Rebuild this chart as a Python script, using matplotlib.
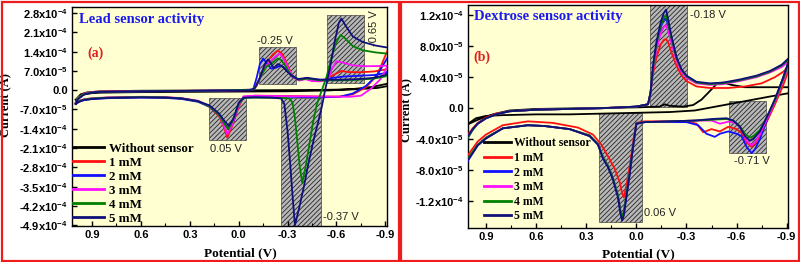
import numpy as np
import matplotlib
matplotlib.use('Agg')
import matplotlib.pyplot as plt
from matplotlib.patches import Rectangle
from matplotlib.ticker import FuncFormatter, MultipleLocator

plt.rcParams['font.family'] = ['Liberation Sans', 'DejaVu Sans']
plt.rcParams['font.weight'] = 'bold'
plt.rcParams['mathtext.fontset'] = 'custom'
plt.rcParams['mathtext.rm'] = 'Liberation Sans:bold'
plt.rcParams['mathtext.it'] = 'Liberation Sans:bold:italic'
plt.rcParams['mathtext.bf'] = 'Liberation Sans:bold'
plt.rcParams['hatch.linewidth'] = 0.6

# ---------------- DATA ----------------
# (potential in V, current in 1e-4 A)
series_labels = ["Without sensor", "1 mM", "2 mM", "3 mM", "4 mM", "5 mM"]
series_colors = ["#000000", "#ff1010", "#1010ff", "#ff10ff", "#008000", "#10107a"]

# panel (a): lead
lead_none = [(1.0, -0.35), (0.97, -0.2), (0.93, -0.12), (0.85, -0.09), (0.6, -0.07), (0.3, -0.06),
             (0.0, -0.05), (-0.3, -0.04), (-0.55, -0.01), (-0.7, 0.04), (-0.82, 0.12), (-0.9, 0.22),
             (-0.96, 0.3), (-0.96, 0.2), (-0.85, 0.08), (-0.7, 0.03), (-0.5, 0.01), (-0.2, 0.0),
             (0.2, -0.01), (0.6, -0.02), (0.85, -0.04), (0.93, -0.08), (0.97, -0.15), (1.0, -0.35)]
lead_1mM = [(1.0, -0.48), (0.98, -0.4), (0.95, -0.34), (0.9, -0.3), (0.8, -0.27), (0.6, -0.25),
            (0.45, -0.26), (0.35, -0.3), (0.25, -0.4), (0.18, -0.6), (0.12, -0.95), (0.09, -1.35),
            (0.07, -1.72), (0.04, -1.3), (0.0, -0.6), (-0.03, -0.25), (-0.1, -0.2), (-0.3, -0.21),
            (-0.5, -0.23), (-0.62, -0.23), (-0.7, -0.15), (-0.78, 0.1), (-0.85, 0.55), (-0.91, 1.4),
            (-0.96, 2.0), (-0.96, 1.0), (-0.9, 0.75), (-0.83, 0.68), (-0.74, 0.65), (-0.67, 0.66),
            (-0.63, 0.7), (-0.58, 0.55), (-0.52, 0.35), (-0.46, 0.33), (-0.41, 0.42), (-0.37, 0.36),
            (-0.33, 0.5), (-0.3, 0.9), (-0.27, 1.3), (-0.24, 1.44), (-0.21, 1.3), (-0.17, 1.0),
            (-0.14, 0.6), (-0.11, 0.15), (-0.08, 0.0), (0.2, -0.02), (0.6, -0.03), (0.88, -0.06),
            (0.95, -0.13), (0.99, -0.3), (1.0, -0.48)]
lead_2mM = [(1.0, -0.5), (0.98, -0.42), (0.95, -0.36), (0.9, -0.32), (0.8, -0.29), (0.6, -0.27),
            (0.45, -0.28), (0.35, -0.32), (0.25, -0.42), (0.18, -0.6), (0.12, -0.9), (0.09, -1.2),
            (0.06, -1.42), (0.03, -1.1), (0.0, -0.5), (-0.03, -0.25), (-0.1, -0.22), (-0.3, -0.24),
            (-0.5, -0.26), (-0.62, -0.24), (-0.7, -0.12), (-0.78, 0.15), (-0.85, 0.55), (-0.91, 1.15),
            (-0.96, 1.6), (-0.96, 0.9), (-0.9, 0.62), (-0.83, 0.55), (-0.73, 0.52), (-0.65, 0.5),
            (-0.58, 0.45), (-0.52, 0.38), (-0.46, 0.38), (-0.42, 0.45), (-0.38, 0.38), (-0.33, 0.48),
            (-0.29, 0.75), (-0.26, 0.9), (-0.23, 0.82), (-0.2, 0.78), (-0.17, 1.0), (-0.15, 1.15),
            (-0.13, 0.95), (-0.11, 0.45), (-0.09, 0.05), (-0.06, 0.0), (0.2, -0.02), (0.6, -0.04),
            (0.88, -0.07), (0.95, -0.15), (0.99, -0.32), (1.0, -0.5)]
lead_3mM = [(1.0, -0.46), (0.98, -0.38), (0.95, -0.33), (0.9, -0.29), (0.8, -0.26), (0.6, -0.24),
            (0.45, -0.25), (0.35, -0.29), (0.25, -0.38), (0.18, -0.58), (0.12, -0.9), (0.09, -1.3),
            (0.07, -1.6), (0.04, -1.25), (0.0, -0.55), (-0.03, -0.22), (-0.1, -0.2), (-0.3, -0.22),
            (-0.5, -0.23), (-0.68, -0.24), (-0.75, -0.2), (-0.81, 0.05), (-0.87, 0.4), (-0.92, 0.95),
            (-0.96, 1.3), (-0.96, 0.92), (-0.88, 0.88), (-0.78, 0.87), (-0.7, 0.9), (-0.64, 1.0),
            (-0.6, 1.05), (-0.57, 0.75), (-0.55, 0.4), (-0.5, 0.32), (-0.45, 0.33), (-0.41, 0.4),
            (-0.37, 0.35), (-0.33, 0.5), (-0.3, 0.85), (-0.27, 1.2), (-0.25, 1.33), (-0.22, 1.2),
            (-0.18, 0.95), (-0.15, 0.7), (-0.12, 0.3), (-0.09, 0.02), (0.2, -0.02), (0.6, -0.04),
            (0.88, -0.06), (0.95, -0.13), (0.99, -0.3), (1.0, -0.46)]
lead_4mM = [(1.0, -0.47), (0.98, -0.4), (0.95, -0.34), (0.9, -0.3), (0.8, -0.27), (0.6, -0.25),
            (0.45, -0.26), (0.35, -0.3), (0.25, -0.4), (0.18, -0.58), (0.12, -0.9), (0.09, -1.2),
            (0.065, -1.42), (0.04, -1.15), (0.0, -0.5), (-0.03, -0.28), (-0.1, -0.27), (-0.25, -0.28),
            (-0.31, -0.3), (-0.33, -0.45), (-0.345, -1.0), (-0.36, -1.9), (-0.375, -2.8), (-0.39, -3.36),
            (-0.41, -2.8), (-0.43, -2.1), (-0.455, -1.2), (-0.48, -0.5), (-0.51, 0.0), (-0.54, 0.5),
            (-0.57, 1.2), (-0.6, 1.75), (-0.625, 2.0), (-0.65, 1.9), (-0.7, 1.6), (-0.76, 1.45),
            (-0.84, 1.37), (-0.91, 1.33), (-0.96, 1.3), (-0.96, 0.7), (-0.9, 0.5), (-0.83, 0.42),
            (-0.73, 0.38), (-0.62, 0.36), (-0.5, 0.36), (-0.42, 0.42), (-0.37, 0.38), (-0.32, 0.55),
            (-0.29, 0.85), (-0.26, 1.1), (-0.24, 1.15), (-0.21, 1.0), (-0.17, 0.85), (-0.14, 0.55),
            (-0.11, 0.2), (-0.09, 0.02), (0.2, -0.02), (0.6, -0.04), (0.88, -0.07), (0.95, -0.14),
            (0.99, -0.3), (1.0, -0.47)]
lead_5mM = [(1.0, -0.5), (0.98, -0.42), (0.95, -0.36), (0.9, -0.32), (0.8, -0.28), (0.6, -0.26),
            (0.45, -0.27), (0.35, -0.3), (0.25, -0.4), (0.18, -0.55), (0.12, -0.85), (0.09, -1.1),
            (0.06, -1.3), (0.03, -1.0), (0.0, -0.45), (-0.03, -0.27), (-0.1, -0.26), (-0.2, -0.27),
            (-0.26, -0.3), (-0.28, -0.5), (-0.29, -1.0), (-0.3, -1.5), (-0.315, -2.6), (-0.33, -3.8),
            (-0.345, -4.9), (-0.37, -4.3), (-0.4, -3.5), (-0.43, -2.6), (-0.46, -1.8), (-0.49, -1.1),
            (-0.51, -0.6), (-0.53, 0.0), (-0.56, 0.8), (-0.59, 1.8), (-0.615, 2.45), (-0.63, 2.6),
            (-0.655, 2.35), (-0.7, 1.95), (-0.76, 1.75), (-0.84, 1.62), (-0.91, 1.55), (-0.96, 1.52),
            (-0.96, 0.8), (-0.9, 0.55), (-0.83, 0.45), (-0.73, 0.4), (-0.62, 0.38), (-0.5, 0.38),
            (-0.42, 0.45), (-0.36, 0.4), (-0.31, 0.6), (-0.27, 0.85), (-0.24, 0.95), (-0.215, 0.8),
            (-0.195, 1.0), (-0.18, 1.12), (-0.16, 0.95), (-0.13, 0.45), (-0.1, 0.08), (-0.08, 0.0),
            (0.2, -0.02), (0.6, -0.04), (0.88, -0.07), (0.95, -0.16), (0.99, -0.35), (1.0, -0.5)]

# panel (b): dextrose
dex_none = [(1.02, -0.22), (1.0, -0.19), (0.96, -0.13), (0.9, -0.1), (0.8, -0.09), (0.6, -0.08),
            (0.4, -0.08), (0.2, -0.07), (0.0, -0.06), (-0.2, -0.05), (-0.35, -0.03), (-0.5, 0.03),
            (-0.65, 0.09), (-0.8, 0.15), (-0.93, 0.2), (-0.93, 0.27), (-0.8, 0.27), (-0.65, 0.27),
            (-0.57, 0.3), (-0.52, 0.33), (-0.48, 0.31), (-0.44, 0.22), (-0.39, 0.11), (-0.34, 0.04),
            (-0.28, 0.02), (-0.2, 0.03), (-0.17, 0.05), (-0.14, 0.02), (0.0, 0.01), (0.3, 0.0),
            (0.6, -0.01), (0.76, -0.03), (0.86, -0.08), (0.95, -0.15), (1.02, -0.22)]
dex_1mM = [(1.02, -0.38), (0.98, -0.26), (0.95, -0.19), (0.9, -0.12), (0.84, -0.07), (0.76, -0.04),
           (0.6, -0.02), (0.4, -0.01), (0.2, 0.0), (0.0, 0.02), (-0.07, 0.05), (-0.085, 0.2),
           (-0.1, 0.45), (-0.12, 0.65), (-0.145, 0.82), (-0.165, 0.88), (-0.178, 0.89), (-0.19, 0.85),
           (-0.21, 0.72), (-0.24, 0.55), (-0.27, 0.42), (-0.3, 0.35), (-0.36, 0.28), (-0.44, 0.26),
           (-0.55, 0.26), (-0.65, 0.28), (-0.75, 0.32), (-0.83, 0.4), (-0.88, 0.47), (-0.93, 0.58),
           (-0.93, 0.6), (-0.88, 0.3), (-0.83, 0.05), (-0.78, -0.18), (-0.74, -0.36), (-0.71, -0.46),
           (-0.69, -0.5), (-0.66, -0.44), (-0.63, -0.32), (-0.6, -0.27), (-0.55, -0.24), (-0.5, -0.3),
           (-0.45, -0.27), (-0.4, -0.31), (-0.36, -0.2), (-0.3, -0.17), (-0.2, -0.17), (-0.05, -0.17),
           (0.0, -0.19), (0.02, -0.45), (0.04, -0.75), (0.06, -1.0), (0.075, -1.15), (0.085, -1.1),
           (0.1, -0.95), (0.13, -0.78), (0.17, -0.62), (0.21, -0.47), (0.26, -0.34), (0.35, -0.25),
           (0.5, -0.19), (0.65, -0.17), (0.8, -0.22), (0.9, -0.34), (0.95, -0.43), (0.98, -0.52),
           (1.02, -0.64)]
dex_2mM = [(1.02, -0.42), (0.98, -0.28), (0.95, -0.2), (0.9, -0.13), (0.84, -0.08), (0.76, -0.04),
           (0.6, -0.02), (0.4, -0.01), (0.2, 0.0), (0.0, 0.02), (-0.07, 0.05), (-0.085, 0.2),
           (-0.1, 0.52), (-0.12, 0.8), (-0.145, 1.04), (-0.165, 1.14), (-0.178, 1.16), (-0.19, 1.07),
           (-0.21, 0.88), (-0.24, 0.64), (-0.27, 0.49), (-0.3, 0.41), (-0.36, 0.33), (-0.44, 0.31),
           (-0.52, 0.32), (-0.62, 0.36), (-0.72, 0.41), (-0.8, 0.47), (-0.87, 0.55), (-0.93, 0.66),
           (-0.93, 0.72), (-0.88, 0.4), (-0.83, 0.1), (-0.78, -0.16), (-0.74, -0.4), (-0.71, -0.53),
           (-0.69, -0.58), (-0.66, -0.5), (-0.63, -0.36), (-0.6, -0.33), (-0.55, -0.3), (-0.5, -0.33),
           (-0.47, -0.37), (-0.42, -0.33), (-0.37, -0.22), (-0.3, -0.18), (-0.2, -0.18), (-0.05, -0.18),
           (0.0, -0.2), (0.02, -0.5), (0.04, -0.85), (0.06, -1.15), (0.075, -1.37), (0.085, -1.43),
           (0.095, -1.35), (0.11, -1.14), (0.14, -0.91), (0.17, -0.75), (0.2, -0.64), (0.23, -0.47),
           (0.28, -0.36), (0.4, -0.27), (0.55, -0.23), (0.65, -0.22), (0.8, -0.26), (0.9, -0.39),
           (0.95, -0.48), (0.98, -0.58), (1.02, -0.72)]
dex_3mM = [(1.02, -0.41), (0.98, -0.27), (0.95, -0.2), (0.9, -0.13), (0.84, -0.08), (0.76, -0.04),
           (0.6, -0.02), (0.4, -0.01), (0.2, 0.0), (0.0, 0.02), (-0.07, 0.05), (-0.085, 0.2),
           (-0.1, 0.5), (-0.12, 0.75), (-0.145, 0.96), (-0.165, 1.05), (-0.178, 1.07), (-0.19, 1.0),
           (-0.21, 0.84), (-0.24, 0.62), (-0.27, 0.47), (-0.3, 0.39), (-0.36, 0.32), (-0.44, 0.3),
           (-0.52, 0.31), (-0.62, 0.35), (-0.72, 0.4), (-0.8, 0.46), (-0.87, 0.53), (-0.93, 0.63),
           (-0.93, 0.68), (-0.88, 0.36), (-0.83, 0.08), (-0.78, -0.15), (-0.74, -0.34), (-0.71, -0.44),
           (-0.69, -0.48), (-0.66, -0.42), (-0.63, -0.28), (-0.6, -0.2), (-0.56, -0.17), (-0.5, -0.2),
           (-0.45, -0.16), (-0.35, -0.16), (-0.2, -0.17), (-0.05, -0.18), (0.0, -0.2), (0.02, -0.5),
           (0.04, -0.84), (0.06, -1.13), (0.075, -1.34), (0.085, -1.41), (0.095, -1.33), (0.11, -1.13),
           (0.14, -0.9), (0.17, -0.74), (0.2, -0.63), (0.23, -0.46), (0.28, -0.35), (0.4, -0.27),
           (0.55, -0.23), (0.65, -0.22), (0.8, -0.26), (0.9, -0.38), (0.95, -0.47), (0.98, -0.57),
           (1.02, -0.7)]
dex_4mM = [(1.02, -0.42), (0.98, -0.28), (0.95, -0.2), (0.9, -0.13), (0.84, -0.08), (0.76, -0.04),
           (0.6, -0.02), (0.4, -0.01), (0.2, 0.0), (0.0, 0.02), (-0.07, 0.05), (-0.085, 0.2),
           (-0.1, 0.52), (-0.12, 0.82), (-0.145, 1.06), (-0.165, 1.17), (-0.178, 1.2), (-0.19, 1.1),
           (-0.21, 0.9), (-0.24, 0.65), (-0.27, 0.5), (-0.3, 0.41), (-0.36, 0.33), (-0.44, 0.31),
           (-0.52, 0.32), (-0.62, 0.36), (-0.72, 0.41), (-0.8, 0.47), (-0.87, 0.55), (-0.93, 0.66),
           (-0.93, 0.7), (-0.88, 0.38), (-0.83, 0.1), (-0.78, -0.12), (-0.74, -0.28), (-0.7, -0.36),
           (-0.68, -0.38), (-0.65, -0.33), (-0.62, -0.23), (-0.58, -0.16), (-0.54, -0.14), (-0.45, -0.15),
           (-0.35, -0.16), (-0.2, -0.17), (-0.05, -0.18), (0.0, -0.2), (0.02, -0.5), (0.04, -0.83),
           (0.06, -1.12), (0.075, -1.33), (0.085, -1.4), (0.095, -1.32), (0.11, -1.12), (0.14, -0.9),
           (0.17, -0.74), (0.2, -0.63), (0.23, -0.46), (0.28, -0.35), (0.4, -0.27), (0.55, -0.23),
           (0.65, -0.22), (0.8, -0.26), (0.9, -0.38), (0.95, -0.47), (0.98, -0.56), (1.02, -0.68)]
dex_5mM = [(1.02, -0.4), (0.98, -0.27), (0.95, -0.2), (0.9, -0.13), (0.84, -0.08), (0.76, -0.04),
           (0.6, -0.02), (0.4, -0.01), (0.2, 0.0), (0.0, 0.02), (-0.07, 0.05), (-0.085, 0.2),
           (-0.1, 0.55), (-0.12, 0.85), (-0.145, 1.1), (-0.165, 1.23), (-0.178, 1.27), (-0.19, 1.15),
           (-0.21, 0.93), (-0.24, 0.66), (-0.27, 0.5), (-0.3, 0.42), (-0.36, 0.34), (-0.44, 0.32),
           (-0.52, 0.33), (-0.62, 0.37), (-0.72, 0.42), (-0.8, 0.48), (-0.87, 0.56), (-0.93, 0.68),
           (-0.93, 0.72), (-0.88, 0.4), (-0.83, 0.12), (-0.78, -0.12), (-0.74, -0.3), (-0.7, -0.4),
           (-0.68, -0.42), (-0.65, -0.36), (-0.62, -0.24), (-0.58, -0.16), (-0.54, -0.13), (-0.45, -0.14),
           (-0.35, -0.16), (-0.2, -0.17), (-0.05, -0.18), (0.0, -0.2), (0.02, -0.5), (0.04, -0.85),
           (0.06, -1.15), (0.075, -1.38), (0.085, -1.45), (0.095, -1.36), (0.11, -1.15), (0.14, -0.92),
           (0.17, -0.76), (0.2, -0.65), (0.23, -0.47), (0.28, -0.36), (0.4, -0.27), (0.55, -0.23),
           (0.65, -0.22), (0.8, -0.26), (0.9, -0.39), (0.95, -0.48), (0.98, -0.58), (1.02, -0.7)]

# shaded peak windows: (V from, V to, I from, I to) in 1e-4 A, with peak label
lead_windows = [(0.182, -0.045, -1.80, -0.29), (-0.26, -0.505, -4.95, -0.29),
                (-0.125, -0.352, 0.22, 1.55), (-0.542, -0.769, 0.25, 2.74)]
lead_peaks = ["0.05 V", "-0.37 V", "-0.25 V", "-0.65 V"]
dex_windows = [(-0.082, -0.304, 0.01, 1.33), (0.223, -0.034, -1.47, -0.06),
               (-0.555, -0.777, -0.58, 0.09)]
dex_peaks = ["-0.18 V", "0.06 V", "-0.71 V"]

lead_yticks = [2.8, 2.1, 1.4, 0.7, 0.0, -0.7, -1.4, -2.1, -2.8, -3.5, -4.2, -4.9]
dex_yticks = [1.2, 0.8, 0.4, 0.0, -0.4, -0.8, -1.2]
xticks = [0.9, 0.6, 0.3, 0.0, -0.3, -0.6, -0.9]


def sci(v, pos):
    if abs(v) < 1e-12:
        return "0.0"
    e = int(np.floor(np.log10(abs(v)) + 1e-9))
    return f"{v / 10**e:.1f}x10$^{{{e}}}$"


serif = dict(family='Liberation Serif', weight='bold')


def draw_panel(ax, curves, windows, ylim, yticks, title, tag):
    ax.set_facecolor('#ffffd2')
    for (v0, v1, i0, i1) in windows:
        ax.add_patch(Rectangle((min(v0, v1), i0 * 1e-4), abs(v1 - v0), (i1 - i0) * 1e-4,
                               facecolor='#b8b8b8', edgecolor='#262626', hatch='///////',
                               lw=0.4, zorder=1))
    for pts, lab, col in zip(curves, series_labels, series_colors):
        arr = np.array(pts)
        ax.plot(arr[:, 0], arr[:, 1] * 1e-4, color=col, lw=1.3, label=lab, zorder=3)
    ax.set_ylim(ylim[0] * 1e-4, ylim[1] * 1e-4)
    ax.set_xticks(xticks)
    ax.xaxis.set_minor_locator(MultipleLocator(0.15))
    ax.set_yticks(np.array(yticks) * 1e-4)
    ax.yaxis.set_major_formatter(FuncFormatter(sci))
    ax.xaxis.set_major_formatter(FuncFormatter(lambda v, p: f"{v:.1f}".replace("-0.0", "0.0")))
    ax.tick_params(which='major', direction='in', length=3.5, width=1, labelsize=8, pad=3)
    ax.tick_params(which='minor', direction='in', length=2, width=0.8)
    for s in ax.spines.values():
        s.set_linewidth(1.0)
    ax.set_xlabel("Potential (V)", fontsize=9.5, **serif)
    ax.set_ylabel("Current (A)", fontsize=9, **serif)
    ax.text(0.022, 0.945, title, transform=ax.transAxes, color='#1a1aee', fontsize=10.5,
            va='center', ha='left', **serif)
    ax.text(0.048, 0.79, tag, transform=ax.transAxes, color='#e02020', fontsize=10,
            va='center', ha='left', **serif)


fig = plt.figure(figsize=(8.0, 2.62), dpi=100)
ann = dict(fontsize=8, fontweight='normal', color='#222222')

# ---------------- (a) LEAD ----------------
ax1 = fig.add_axes([72 / 800, 1 - 226 / 262, 315 / 800, 219 / 262])
draw_panel(ax1, [lead_none, lead_1mM, lead_2mM, lead_3mM, lead_4mM, lead_5mM],
           lead_windows, (-4.93, 3.02), lead_yticks, "Lead sensor activity", "(a)")
ax1.set_xlim(1.023, -0.91)
ax1.xaxis.set_label_coords(0.533, -0.096)
ax1.yaxis.set_label_coords(-0.19, 0.55)
ax1.text(0.078, -2.13e-4, lead_peaks[0], ha='center', va='center', **ann)
ax1.text(-0.517, -4.62e-4, lead_peaks[1], ha='left', va='center', **ann)
ax1.text(-0.223, 1.8e-4, lead_peaks[2], ha='center', va='center', **ann)
ax1.text(-0.83, 2.25e-4, lead_peaks[3], ha='center', va='center', rotation=90, **ann)
ax1.legend(loc='lower left', bbox_to_anchor=(0.0, 0.0), frameon=False,
           prop=dict(family='Liberation Serif', weight='bold', size=9.4),
           handlelength=2.35, handletextpad=0.35, labelspacing=0.14, borderpad=0.1,
           borderaxespad=0.0)
for ln in ax1.get_legend().get_lines():
    ln.set_linewidth(2)

# ---------------- (b) DEXTROSE ----------------
ax2 = fig.add_axes([468 / 800, 1 - 228 / 262, 320 / 800, 223 / 262])
draw_panel(ax2, [dex_none, dex_1mM, dex_2mM, dex_3mM, dex_4mM, dex_5mM],
           dex_windows, (-1.545, 1.33), dex_yticks, "Dextrose sensor activity", "(b)")
ax2.set_xlim(1.008, -0.908)
ax2.texts[0].set_position((0.019, 0.95))
ax2.texts[1].set_position((0.016, 0.767))
ax2.xaxis.set_label_coords(0.531, -0.09)
ax2.yaxis.set_label_coords(-0.17, 0.53)
ax2.text(-0.32, 1.2e-4, dex_peaks[0], ha='left', va='center', **ann)
ax2.text(-0.045, -1.35e-4, dex_peaks[1], ha='left', va='center', **ann)
ax2.text(-0.69, -0.68e-4, dex_peaks[2], ha='center', va='center', **ann)
ax2.legend(loc='lower left', bbox_to_anchor=(0.045, 0.02), frameon=False,
           prop=dict(family='Liberation Serif', weight='bold', size=8.5),
           handlelength=2.3, handletextpad=0.3, labelspacing=0.22, borderpad=0.1,
           borderaxespad=0.0)
for ln in ax2.get_legend().get_lines():
    ln.set_linewidth(2)

# red frames round the two panels
for x0, x1 in [(1.5, 399), (401, 798.5)]:
    fig.add_artist(Rectangle((x0 / 800, 1.5 / 262), (x1 - x0) / 800, 259 / 262,
                             transform=fig.transFigure, fill=False, edgecolor='#ee1c1c', lw=1.6))

fig.savefig("out.png", dpi=100)
